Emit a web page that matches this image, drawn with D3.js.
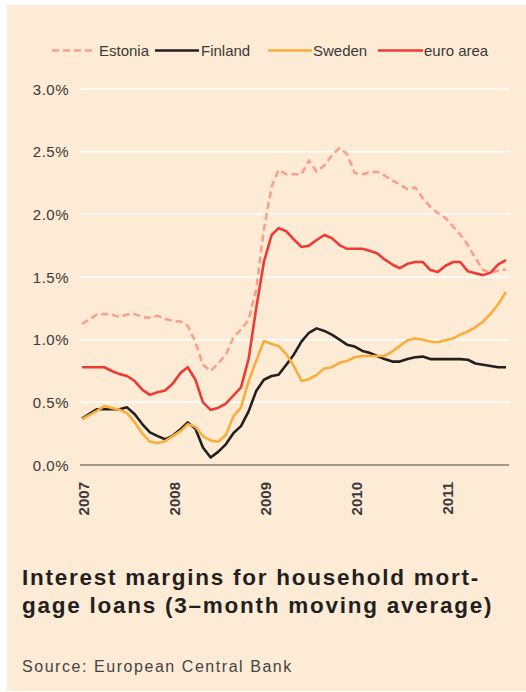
<!DOCTYPE html>
<html>
<head>
<meta charset="utf-8">
<script src="https://cdn.jsdelivr.net/npm/d3@7"></script>
<style>
  body { margin: 0; background: #fff; }
  svg { display: block; font-family: "Liberation Sans", Arial, sans-serif; }
</style>
</head>
<body>
<svg id="chart" width="526" height="692"></svg>
<script>
// monthly, Jan 2007 - Sep 2011
const months = d3.timeMonths(new Date(2007, 0, 1), new Date(2011, 9, 1))

const estonia = [1.125, 1.165, 1.2, 1.205, 1.2, 1.18, 1.2, 1.205, 1.18, 1.175, 1.19, 1.165, 1.15, 1.145, 1.11,
  0.98, 0.8, 0.75, 0.81, 0.88, 1.02, 1.08, 1.16, 1.4, 1.88, 2.22, 2.355, 2.32, 2.32, 2.32, 2.43, 2.34, 2.39,
  2.47, 2.53, 2.48, 2.33, 2.32, 2.335, 2.34, 2.31, 2.27, 2.24, 2.2, 2.215, 2.13, 2.06, 2.01, 1.97, 1.9, 1.84,
  1.755, 1.65, 1.555, 1.535, 1.55, 1.56]
const finland = [0.37, 0.41, 0.445, 0.445, 0.445, 0.445, 0.46, 0.405, 0.325, 0.26, 0.23, 0.205, 0.235, 0.285,
  0.34, 0.29, 0.14, 0.06, 0.105, 0.165, 0.255, 0.31, 0.43, 0.59, 0.68, 0.71, 0.72, 0.8, 0.88, 0.985, 1.055,
  1.09, 1.07, 1.04, 1.0, 0.96, 0.945, 0.91, 0.895, 0.87, 0.845, 0.825, 0.825, 0.845, 0.86, 0.865, 0.845,
  0.845, 0.845, 0.845, 0.845, 0.84, 0.81, 0.8, 0.79, 0.78, 0.78]
const sweden = [0.365, 0.4, 0.43, 0.47, 0.455, 0.44, 0.415, 0.34, 0.25, 0.185, 0.175, 0.19, 0.23, 0.27, 0.325,
  0.305, 0.23, 0.195, 0.185, 0.24, 0.39, 0.46, 0.67, 0.83, 0.99, 0.965, 0.95, 0.885, 0.79, 0.67, 0.685, 0.72,
  0.77, 0.78, 0.815, 0.83, 0.86, 0.87, 0.87, 0.87, 0.87, 0.905, 0.95, 0.995, 1.01, 1.0, 0.985, 0.98, 0.995,
  1.01, 1.04, 1.065, 1.1, 1.145, 1.205, 1.285, 1.38]
const euroArea = [0.78, 0.78, 0.78, 0.78, 0.75, 0.725, 0.71, 0.67, 0.6, 0.56, 0.58, 0.595, 0.65, 0.735, 0.78,
  0.68, 0.5, 0.44, 0.455, 0.49, 0.555, 0.62, 0.85, 1.25, 1.62, 1.835, 1.89, 1.865, 1.8, 1.74, 1.75, 1.795,
  1.835, 1.81, 1.755, 1.725, 1.725, 1.725, 1.71, 1.69, 1.64, 1.6, 1.57, 1.605, 1.62, 1.62, 1.555, 1.54, 1.59,
  1.62, 1.62, 1.545, 1.53, 1.515, 1.535, 1.6, 1.635]

const yTicks = [0, 0.5, 1.0, 1.5, 2.0, 2.5, 3.0]
const yearTicks = ['2007', '2008', '2009', '2010', '2011']

const series = [
  { name: 'Estonia', values: estonia, color: '#f7a18d', dash: '7,4' },
  { name: 'Finland', values: finland, color: '#231f20', dash: null },
  { name: 'Sweden', values: sweden, color: '#fbad3c', dash: null },
  { name: 'euro area', values: euroArea, color: '#ee3b33', dash: null },
]

const svg = d3.select('#chart')

// panel
svg.append('rect')
  .attr('x', 7).attr('y', 5)
  .attr('width', 519).attr('height', 686)
  .attr('fill', '#fdebd5')

const x = d3.scaleTime()
  .domain([months[0], months[months.length - 1]])
  .range([82, 506])
const y = d3.scaleLinear()
  .domain([0, 3])
  .range([465, 89])

// grid
const grid = svg.append('g')
grid.selectAll('line')
  .data(yTicks.filter((d) => d > 0))
  .join('line')
  .attr('x1', 80).attr('x2', 509)
  .attr('y1', (d) => y(d)).attr('y2', (d) => y(d))
  .attr('stroke', '#fff')
  .attr('stroke-width', 1.5)

grid.append('line')
  .attr('x1', 80).attr('x2', 509)
  .attr('y1', y(0)).attr('y2', y(0))
  .attr('stroke', '#4a4544')
  .attr('stroke-width', 1.2)

// y labels
svg.append('g')
  .selectAll('text')
  .data(yTicks)
  .join('text')
  .attr('x', 69)
  .attr('y', (d) => y(d) + 5.5)
  .attr('text-anchor', 'end')
  .attr('font-size', 15)
  .attr('letter-spacing', 0.5)
  .attr('fill', '#3b3838')
  .text((d) => d.toFixed(1) + '%')

// x labels (rotated)
svg.append('g')
  .selectAll('text')
  .data(yearTicks)
  .join('text')
  .attr('transform', (d) => `translate(${x(new Date(+d, 0, 1)) + 7},482) rotate(-90)`)
  .attr('text-anchor', 'end')
  .attr('font-size', 15)
  .attr('font-weight', 'bold')
  .attr('fill', '#3b3838')
  .text((d) => d)

// lines
const line = d3.line()
  .x((d, i) => x(months[i]))
  .y((d) => y(d))

svg.append('g')
  .selectAll('path')
  .data(series)
  .join('path')
  .attr('d', (s) => line(s.values))
  .attr('fill', 'none')
  .attr('stroke', (s) => s.color)
  .attr('stroke-width', 2.6)
  .attr('stroke-dasharray', (s) => s.dash)
  .attr('stroke-linejoin', 'round')

// legend
const legendPos = [
  { x1: 52, x2: 92, tx: 99 },
  { x1: 155, x2: 199, tx: 201 },
  { x1: 268, x2: 312, tx: 313 },
  { x1: 378, x2: 423, tx: 424 },
]
const legend = svg.append('g')
series.forEach((s, i) => {
  const p = legendPos[i]
  legend.append('line')
    .attr('x1', p.x1).attr('x2', p.x2)
    .attr('y1', 50.5).attr('y2', 50.5)
    .attr('stroke', s.color)
    .attr('stroke-width', 2.6)
    .attr('stroke-dasharray', s.dash)
  legend.append('text')
    .attr('x', p.tx).attr('y', 56)
    .attr('font-size', 15)
    .attr('fill', '#3b3838')
    .text(s.name)
})

// title + source
const title = svg.append('text')
  .attr('font-size', 22.5)
  .attr('font-weight', 'bold')
  .attr('letter-spacing', 1.75)
  .attr('fill', '#231f20')
title.append('tspan').attr('x', 22).attr('y', 585).text('Interest margins for household mort-')
title.append('tspan').attr('x', 22).attr('y', 613).text('gage loans (3–month moving average)')

svg.append('text')
  .attr('x', 22).attr('y', 672)
  .attr('font-size', 16)
  .attr('letter-spacing', 1.55)
  .attr('fill', '#444')
  .text('Source: European Central Bank')
</script>
</body>
</html>
